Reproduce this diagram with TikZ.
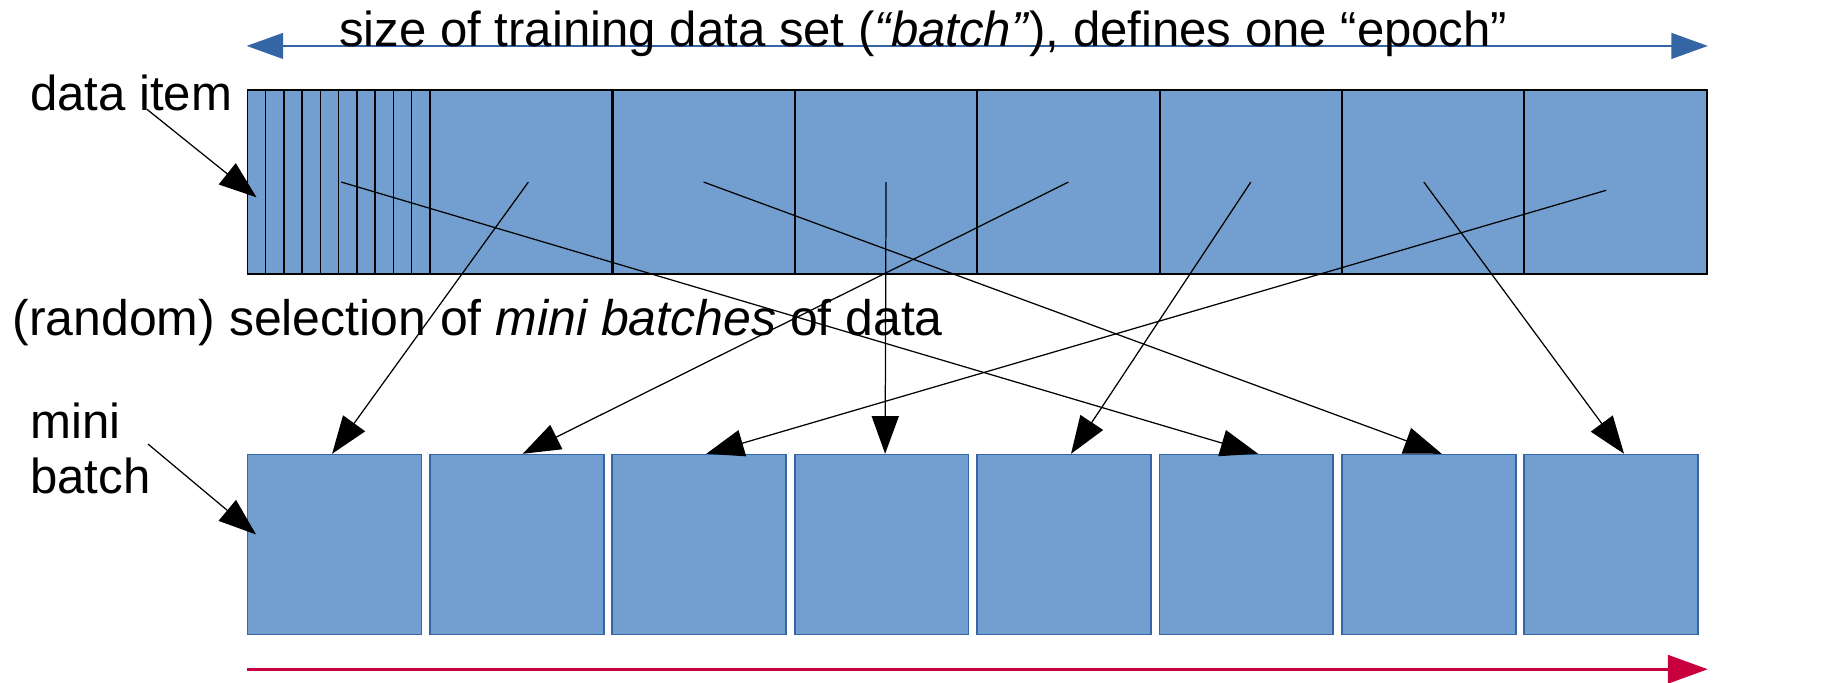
\documentclass[tikz,border=0pt]{standalone}
\usepackage{fontspec}
\setmainfont{Liberation Sans}
\usetikzlibrary{arrows.meta,calc}
\definecolor{cellfill}{HTML}{729FCF}
\definecolor{cellline}{HTML}{3465A4}
\definecolor{epochblue}{HTML}{3465A4}
\definecolor{timered}{HTML}{C9003E}
\tikzset{
  font=\fontsize{11.9}{13.4}\selectfont,
  segbox/.style={
    draw=black, line width=0.5pt, fill=cellfill, inner sep=0pt,
    minimum width=15.525mm, minimum height=15.6mm, anchor=west
  },
  itembox/.style={segbox, line width=0.35pt, minimum width=1.5525mm},
  minibox/.style={
    draw=cellline, line width=0.4pt, fill=cellfill, inner sep=0pt,
    minimum width=14.8mm, minimum height=15.3mm, anchor=west
  },
  pick/.style={-{Triangle[length=3.2mm,width=2.3mm]}, line width=0.3pt, draw=black},
  epocharrow/.style={{Triangle[length=3.1mm,width=2.2mm]}-{Triangle[length=3.1mm,width=2.2mm]},
    line width=0.35pt, draw=epochblue},
  timearrow/.style={-{Triangle[length=3.4mm,width=2.4mm]}, line width=0.7pt, draw=timered},
  lbl/.style={inner sep=0pt, text=black}
}

\begin{document}
\begin{tikzpicture}
  \useasboundingbox (0,0) rectangle (15.68,5.81);

  % whole training set, split in segments
  \foreach \i in {1,...,8}
    \node[segbox] (s\i) at ({2.10+1.5525*(\i-1)},4.26) {};
  % single data items in the first segment
  \foreach \k in {1,...,10}
    \node[itembox] (d\k) at ({2.10+0.15525*(\k-1)},4.26) {};

  % mini batches
  \foreach \i in {1,...,8}
    \node[minibox] (b\i) at ({2.10+1.5525*(\i-1)},1.175) {};

  % labels
  \draw[epocharrow] ([yshift=3.7mm]s1.north west) -- ([yshift=3.7mm]s8.north east);
  \node[lbl, anchor=base] (title) at (7.86,5.41)
    {size of training data set (\textit{“batch”}), defines one “epoch”};
  \node[lbl, anchor=base west] (ditem) at (0.25,4.87) {data item};
  \node[lbl, anchor=base west, font=\fontsize{12.1}{13.4}\selectfont] (select) at (0.10,2.95)
    {(random) selection of \textit{mini batches} of data};
  \node[lbl, anchor=west, align=left] (mbatch) at (0.25,1.99) {mini\\batch};

  \coordinate (ditemtail) at (1.25,4.88);
  \coordinate (mbatchtail) at (1.26,2.03);
  \draw[pick] (ditemtail) -- ([yshift=-1.3mm]d1.center);
  \draw[pick] (mbatchtail) -- ([xshift=0.8mm,yshift=0.85mm]b1.west);

  % random selection
  \foreach \from/\to/\dx/\sx/\sy in {2/1/-0.2/0.6/0,5/2/0.5/0/0,8/3/0.6/-0.8/-0.7,4/4/0.3/0/0,
      6/5/0.6/0/0,1/6/1.0/0.2/0,3/7/1.1/0/0,7/8/1.1/-0.8/0}
    \draw[pick] ([xshift=\sx mm,yshift=\sy mm]s\from.center) -- ([xshift=\dx mm]b\to.north);

  \draw[timearrow] ([yshift=-2.9mm]b1.south west) -- ([yshift=-2.9mm]b1.south west -| s8.east);
\end{tikzpicture}
\end{document}
